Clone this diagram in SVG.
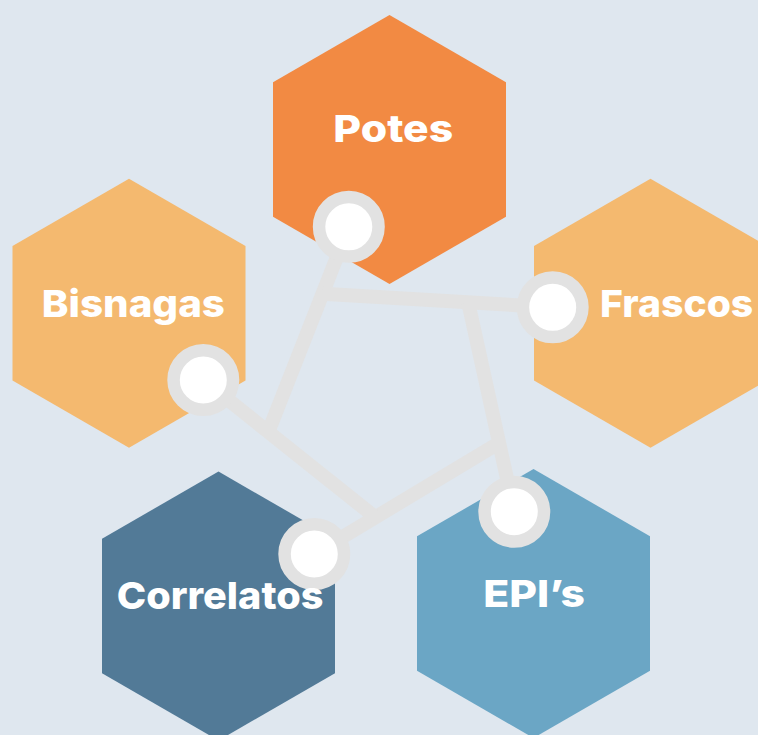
<svg xmlns="http://www.w3.org/2000/svg" width="758" height="735" viewBox="0 0 758 735">
<style>
.lbl{font-family:Inter,"Open Sans","Liberation Sans",sans-serif;font-weight:800;font-size:37.5px;fill:#ffffff}
.ln{stroke:#e2e2e2;stroke-width:14;fill:none;stroke-linecap:butt}
.dot{fill:#ffffff;stroke:#e2e2e2;stroke-width:12.5}
</style>
<rect width="758" height="735" fill="#dfe7ef"/>
<g id="potes-hex"><polygon points="389.5,15 506,82.25 506,216.75 389.5,284 273,216.75 273,82.25" fill="#f28a43"/></g>
<g id="bisnagas-hex"><polygon points="129,178.75 245.5,246 245.5,380.5 129,447.75 12.5,380.5 12.5,246" fill="#f4b96f"/></g>
<g id="frascos-hex"><polygon points="650.5,178.75 767,246 767,380.5 650.5,447.75 534,380.5 534,246" fill="#f4b96f"/></g>
<g id="correlatos-hex"><polygon points="218.5,471.5 335,538.75 335,673.25 218.5,740.5 102,673.25 102,538.75" fill="#527a97"/></g>
<g id="epis-hex"><polygon points="533.5,469 650,536.25 650,670.75 533.5,738 417,670.75 417,536.25" fill="#6ba6c5"/></g>
<g id="connectors">
<line class="ln" x1="268.3" y1="431.9" x2="348.8" y2="226.8"/>
<line class="ln" x1="322.7" y1="293.7" x2="552.7" y2="307.3"/>
<line class="ln" x1="468.2" y1="302.4" x2="514.3" y2="511.7"/>
<line class="ln" x1="499" y1="443" x2="314.3" y2="554"/>
<line class="ln" x1="375.4" y1="517.3" x2="203.3" y2="380"/>
</g>
<g id="potes"><circle class="dot" cx="348.8" cy="226.8" r="29.75"/><text class="lbl" x="333.3" y="142" textLength="120" lengthAdjust="spacingAndGlyphs">Potes</text></g>
<g id="bisnagas"><circle class="dot" cx="203.3" cy="380" r="29.75"/><text class="lbl" x="41.7" y="317" textLength="183.3" lengthAdjust="spacingAndGlyphs">Bisnagas</text></g>
<g id="frascos"><circle class="dot" cx="552.7" cy="307.3" r="29.75"/><text class="lbl" x="600" y="317" textLength="153.3" lengthAdjust="spacingAndGlyphs">Frascos</text></g>
<g id="correlatos"><circle class="dot" cx="314.3" cy="554" r="29.75"/><text class="lbl" x="116.7" y="609" textLength="206.7" lengthAdjust="spacingAndGlyphs">Correlatos</text></g>
<g id="epis"><circle class="dot" cx="514.3" cy="511.7" r="29.75"/><text class="lbl" x="483.3" y="607" textLength="101.7" lengthAdjust="spacingAndGlyphs">EPI’s</text></g>
</svg>
